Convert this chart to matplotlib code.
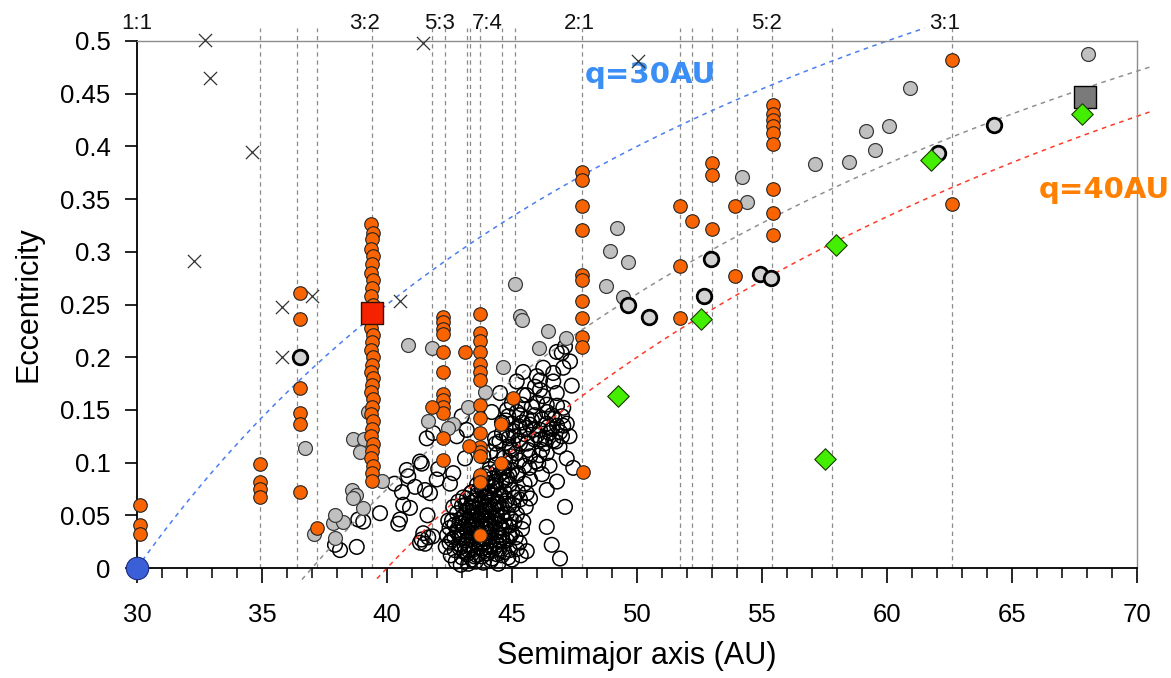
import matplotlib
matplotlib.use("Agg")
import matplotlib.pyplot as plt
import numpy as np

plt.rcParams['font.family'] = ['Liberation Sans', 'DejaVu Sans']

# ---------------- data ----------------
# mean-motion resonance locations (AU) drawn as dashed verticals
res_lines_a = [34.9, 36.4, 37.2, 39.4, 41.8, 42.3, 43.2, 43.3, 43.7, 44.6, 45.1,
               47.8, 51.7, 52.2, 53.0, 54.0, 55.4, 57.8, 62.6]
res_label_names = ["1:1", "3:2", "5:3", "7:4", "2:1", "5:2", "3:1"]
res_label_a = [30.0, 39.1, 42.1, 44.0, 47.7, 55.2, 62.3]

# constant-perihelion curves e = 1 - q/a
q_values = [30, 37, 40]
q_a_start = [30.0, 36.6, 39.6]
q_a_end = [61.5, 70.5, 70.5]
q_colors = ['#4a7ef2', '#909090', '#ff3a28']

# Neptune
neptune_a = [30.0]
neptune_e = [0.0]

# resonant objects (orange)
orange_a = ([30.1] * 3 + [34.9] * 4 + [36.5] * 6 + [37.2] +
            [39.35, 39.45, 39.4, 39.35, 39.45, 39.4, 39.35, 39.45, 39.4, 39.35,
             39.45, 39.4, 39.35, 39.45, 39.4, 39.35, 39.45, 39.4, 39.35, 39.45,
             39.4, 39.35, 39.45, 39.4, 39.35, 39.45, 39.4, 39.35, 39.45, 39.4,
             39.35, 39.45, 39.4, 39.4] +
            [42.25] * 12 + [41.8] +
            [43.7] * 16 +
            [43.12, 43.28, 44.55, 44.55, 45.05, 47.83] +
            [47.8] * 10 +
            [51.7, 52.2, 53.0, 51.7, 51.7, 53.9, 53.9, 53.0, 53.0] +
            [55.45] * 9 +
            [62.6, 62.6])
orange_e = ([0.060, 0.041, 0.032] +
            [0.099, 0.082, 0.075, 0.067] +
            [0.261, 0.236, 0.171, 0.147, 0.137, 0.072] +
            [0.038] +
            [0.326, 0.318, 0.312, 0.303, 0.296, 0.288, 0.280, 0.273, 0.266, 0.258,
             0.250, 0.235, 0.228, 0.221, 0.214, 0.207, 0.200, 0.193, 0.186, 0.180,
             0.174, 0.167, 0.160, 0.153, 0.146, 0.139, 0.132, 0.125, 0.118, 0.111,
             0.104, 0.097, 0.090, 0.083] +
            [0.238, 0.233, 0.227, 0.222, 0.205, 0.186, 0.165, 0.159, 0.153, 0.147,
             0.123, 0.102] + [0.153] +
            [0.241, 0.223, 0.215, 0.205, 0.194, 0.186, 0.178, 0.155, 0.142, 0.128,
             0.115, 0.110, 0.106, 0.088, 0.082, 0.031] +
            [0.205, 0.116, 0.137, 0.100, 0.161, 0.091] +
            [0.376, 0.368, 0.343, 0.321, 0.278, 0.273, 0.253, 0.237, 0.219, 0.210] +
            [0.343, 0.329, 0.322, 0.287, 0.237, 0.343, 0.277, 0.384, 0.373] +
            [0.439, 0.431, 0.425, 0.419, 0.413, 0.402, 0.360, 0.337, 0.316] +
            [0.482, 0.345])

# scattered objects (grey)
gray_a = [36.7, 37.08, 37.92, 37.84, 38.25, 37.92, 39.05, 38.59, 38.77, 38.65,
          39.79, 38.63, 39.08, 38.9, 39.24, 40.85, 41.79, 41.65, 42.65, 42.45,
          43.25, 43.92, 44.65, 45.12, 45.32, 45.39, 46.45, 46.09, 47.16, 48.76,
          49.43, 49.19, 48.9, 49.65, 54.39, 54.19, 57.13, 58.46, 59.17, 59.53,
          60.07, 60.93, 68.05]
gray_e = [0.114, 0.032, 0.028, 0.043, 0.044, 0.050, 0.057, 0.074, 0.069, 0.066,
          0.083, 0.122, 0.122, 0.110, 0.148, 0.212, 0.209, 0.139, 0.137, 0.133,
          0.153, 0.167, 0.191, 0.269, 0.239, 0.235, 0.225, 0.209, 0.218, 0.268,
          0.257, 0.323, 0.301, 0.290, 0.347, 0.371, 0.383, 0.385, 0.415, 0.397,
          0.419, 0.455, 0.488]

# detached objects (grey, thick outline)
detached_a = [36.5, 49.63, 50.48, 52.68, 52.95, 54.92, 55.35, 62.05, 64.26]
detached_e = [0.200, 0.250, 0.238, 0.258, 0.293, 0.279, 0.275, 0.394, 0.420]

# green diamonds
green_a = [49.25, 52.57, 57.5, 57.95, 61.76, 67.8]
green_e = [0.163, 0.236, 0.103, 0.306, 0.387, 0.431]

# highlighted squares
red_sq_a, red_sq_e = [39.4], [0.242]
gray_sq_a, gray_sq_e = [67.9], [0.447]

# crosses
cross_a = [32.7, 32.92, 34.59, 32.29, 35.79, 37.01, 35.79, 40.52, 41.44, 50.02]
cross_e = [0.501, 0.465, 0.395, 0.291, 0.248, 0.258, 0.200, 0.253, 0.498, 0.481]

# classical objects (open circles)
open_a = [
    # sparse left side
    38.12, 38.79, 37.92, 38.85, 39.05, 39.72, 40.45, 40.92, 40.65, 41.12,
    40.85, 40.79, 41.39, 41.62, 41.52, 41.39, 41.82, 41.99, 42.05, 42.52,
    42.65, 41.32, 41.52, 41.72, 41.85, 41.59, 42.79, 42.99, 43.19, 43.12,
    43.85, 44.12, 44.32, 44.19, 40.3, 40.6, 40.52, 41.45, 41.32, 41.65,
    # band towards upper right
    47.39, 46.79, 46.12, 45.45, 45.79, 46.39, 47.05, 47.19, 46.92, 46.65,
    47.19, 47.45, 46.39, 46.05, 45.72, 45.32, 44.92, 44.79, 45.32, 45.72,
    46.12, 46.39, 45.92, 45.32, 44.85, 44.99, 44.52, 45.92, 46.65,
    45.1, 45.5, 45.9, 46.2, 46.6, 46.8, 47.0, 45.6, 45.0, 46.3,
    46.9, 45.4, 46.0, 46.5, 44.7, 45.5, 46.2, 46.8, 47.3, 44.6,
    46.79, 47.12, 47.32, 47.05, 46.25, 45.45, 45.99, 46.65, 45.19, 46.25,
    45.59, 46.99, 46.12,
    44.4, 44.6, 44.8, 45.0, 45.2, 45.4, 45.6, 45.8, 46.0, 46.2,
    46.4, 46.6, 46.8, 47.0, 45.3, 45.7, 46.1, 46.5, 44.9, 45.5,
    44.5, 44.75, 45.05, 45.25, 45.55, 45.85, 46.15, 46.45, 46.75, 47.05,
    44.65, 44.95, 45.25, 45.65, 45.95, 46.35, 46.7, 44.35, 44.85, 45.15,
    # lower right
    46.39, 45.72, 45.59, 45.32, 47.12, 46.39, 46.59, 46.92, 45.59, 44.92,
    44.92, 45.72,
    # dense core
    43.0, 43.4, 43.8, 44.2, 44.6, 45.0,
    42.7, 43.1, 43.5, 43.9, 44.3, 44.7, 45.2,
    42.5, 42.9, 43.2, 43.6, 44.0, 44.4, 44.8, 45.3,
    42.4, 42.7, 43.0, 43.4, 43.7, 44.1, 44.5, 45.0,
    42.5, 42.8, 43.1, 43.5, 43.8, 44.2, 44.6, 44.9, 45.4,
    42.6, 42.9, 43.3, 43.6, 44.0, 44.3, 44.7, 45.1,
    42.8, 43.1, 43.4, 43.8, 44.1, 44.4, 44.8, 45.2,
    43.0, 43.3, 43.7, 44.0, 44.3, 44.6, 44.9,
    43.2, 43.5, 43.9, 44.2, 44.5, 44.8, 45.1,
    43.4, 43.8, 44.1, 44.4, 44.7, 45.0,
    43.6, 44.0, 44.3, 44.6, 44.9,
    43.9, 44.2, 44.5, 44.8, 45.2,
    44.1, 44.4, 44.7, 45.0,
    43.2, 43.6, 44.0, 44.4, 42.9, 43.3, 43.7, 44.1, 44.5, 42.6,
    43.0, 43.4, 43.8, 44.2, 44.6, 42.8, 43.2, 43.6, 44.0, 44.4,
    42.7, 43.0, 43.4, 43.8, 44.1, 44.5, 43.0, 43.5, 43.9, 44.2,
    44.6, 43.2, 43.6, 44.0, 44.4, 43.4, 43.8, 44.1, 44.4, 43.6,
    44.0, 44.3, 43.8, 44.2,
    42.35, 42.45, 42.55, 42.65, 42.75, 42.85, 42.95, 43.05, 43.15, 43.25,
    43.35, 43.45, 43.55, 43.65, 43.75, 43.85, 43.95, 44.05, 44.15, 44.25,
    44.35, 44.45, 44.55, 44.65, 44.75, 44.85, 44.95, 45.05, 45.15, 45.25,
    45.35, 45.45, 45.55, 42.9, 43.1, 43.3, 43.5, 43.7, 43.9, 44.1,
    44.3, 44.5, 44.7, 44.9, 43.15, 43.45, 43.75, 44.05, 44.35, 44.65,
    44.95, 43.25, 43.55, 43.85, 44.15, 44.45, 44.75, 43.35, 43.65, 43.95,
]
open_e = [
    0.017, 0.020, 0.022, 0.046, 0.044, 0.052, 0.042, 0.057, 0.060, 0.077,
    0.087, 0.093, 0.099, 0.050, 0.023, 0.027, 0.030, 0.084, 0.094, 0.080,
    0.090, 0.101, 0.074, 0.071, 0.128, 0.123, 0.125, 0.144, 0.131, 0.104,
    0.106, 0.110, 0.123, 0.148, 0.080, 0.072, 0.046, 0.033, 0.024, 0.029,
    0.173, 0.166, 0.169, 0.164, 0.153, 0.155, 0.152, 0.137, 0.129, 0.121,
    0.104, 0.095, 0.109, 0.099, 0.106, 0.118, 0.115, 0.126, 0.134, 0.136,
    0.131, 0.137, 0.145, 0.145, 0.144, 0.156, 0.166, 0.172, 0.177,
    0.125, 0.127, 0.122, 0.141, 0.145, 0.135, 0.144, 0.142, 0.137, 0.118,
    0.115, 0.155, 0.157, 0.128, 0.105, 0.097, 0.089, 0.082, 0.125, 0.138,
    0.205, 0.210, 0.196, 0.190, 0.190, 0.186, 0.182, 0.185, 0.177, 0.163,
    0.164, 0.204, 0.178,
    0.108, 0.128, 0.150, 0.112, 0.148, 0.138, 0.118, 0.140, 0.126, 0.112,
    0.148, 0.132, 0.154, 0.125, 0.102, 0.095, 0.107, 0.097, 0.088, 0.080,
    0.120, 0.140, 0.130, 0.121, 0.133, 0.131, 0.122, 0.134, 0.120, 0.135,
    0.095, 0.100, 0.090, 0.112, 0.101, 0.123, 0.142, 0.118, 0.123, 0.109,
    0.074, 0.084, 0.071, 0.065, 0.058, 0.039, 0.022, 0.009, 0.016, 0.017,
    0.030, 0.066,
    0.010, 0.008, 0.011, 0.009, 0.012, 0.008,
    0.017, 0.015, 0.018, 0.016, 0.019, 0.015, 0.018,
    0.024, 0.022, 0.026, 0.023, 0.025, 0.022, 0.026, 0.024,
    0.031, 0.029, 0.032, 0.030, 0.033, 0.029, 0.031, 0.033,
    0.038, 0.036, 0.039, 0.037, 0.040, 0.036, 0.038, 0.040, 0.037,
    0.045, 0.043, 0.046, 0.044, 0.047, 0.043, 0.045, 0.044,
    0.052, 0.050, 0.053, 0.051, 0.054, 0.050, 0.052, 0.051,
    0.059, 0.057, 0.060, 0.058, 0.061, 0.057, 0.060,
    0.066, 0.064, 0.067, 0.065, 0.068, 0.064, 0.067,
    0.072, 0.074, 0.071, 0.075, 0.072, 0.074,
    0.079, 0.081, 0.078, 0.082, 0.079,
    0.087, 0.085, 0.089, 0.086, 0.088,
    0.094, 0.092, 0.096, 0.093,
    0.013, 0.012, 0.014, 0.013, 0.019, 0.021, 0.020, 0.021, 0.018, 0.027,
    0.028, 0.027, 0.028, 0.026, 0.029, 0.034, 0.035, 0.034, 0.033, 0.034,
    0.041, 0.042, 0.041, 0.043, 0.041, 0.042, 0.048, 0.049, 0.047, 0.048,
    0.049, 0.055, 0.056, 0.055, 0.055, 0.062, 0.063, 0.062, 0.063, 0.069,
    0.068, 0.069, 0.076, 0.077,
    0.020, 0.045, 0.012, 0.058, 0.006, 0.063, 0.003, 0.067, 0.045, 0.004,
    0.071, 0.033, 0.006, 0.052, 0.085, 0.005, 0.038, 0.090, 0.007, 0.058,
    0.098, 0.004, 0.070, 0.025, 0.083, 0.010, 0.047, 0.060, 0.029, 0.072,
    0.012, 0.044, 0.058, 0.030, 0.021, 0.039, 0.011, 0.027, 0.058, 0.017,
    0.047, 0.025, 0.061, 0.031, 0.060, 0.058, 0.049, 0.073, 0.082, 0.091,
    0.106, 0.017, 0.041, 0.023, 0.039, 0.061, 0.040, 0.049, 0.074, 0.081,
]

x_ticks = [30, 35, 40, 45, 50, 55, 60, 65, 70]
y_ticks = [0, 0.05, 0.1, 0.15, 0.2, 0.25, 0.3, 0.35, 0.4, 0.45, 0.5]
y_tick_labels = ["0", "0.05", "0.1", "0.15", "0.2", "0.25", "0.3", "0.35",
                 "0.4", "0.45", "0.5"]

# ---------------- figure ----------------
W, H = 1171, 678
fig = plt.figure(figsize=(W / 100, H / 100), dpi=100)
ax = fig.add_axes([137 / W, 1 - 568 / H, 1000 / W, 527 / H])
ax.set_xlim(30, 70)
ax.set_ylim(0, 0.5)

line_top = 0.512
for a in res_lines_a:
    ax.plot([a, a], [0, line_top], color='#8a8a8a', lw=0.9,
            linestyle=(0, (3.5, 3)), zorder=1, clip_on=False)
for name, a in zip(res_label_names, res_label_a):
    ax.text(a, 0.5115, name, ha='center', va='baseline', fontsize=16,
            color='#111111', clip_on=False)

for q, a0, a1, c in zip(q_values, q_a_start, q_a_end, q_colors):
    aa = np.linspace(a0, a1, 300)
    ax.plot(aa, 1 - q / aa, color=c, lw=1.1, linestyle=(0, (3, 3)),
            zorder=2.5, clip_on=False)

ax.scatter(open_a, open_e, s=110, facecolor='none', edgecolor='black',
           linewidth=1.1, zorder=2, clip_on=False)
ax.scatter(gray_a, gray_e, s=100, facecolor='#c0c0c0', edgecolor='#3a3a3a',
           linewidth=0.9, zorder=3, clip_on=False)
ax.scatter(orange_a, orange_e, s=95, facecolor='#f96400', edgecolor='#222222',
           linewidth=0.8, zorder=4, clip_on=False)
ax.scatter(detached_a, detached_e, s=110, facecolor='#d2d2d2', edgecolor='black',
           linewidth=2.0, zorder=5, clip_on=False)
ax.scatter(cross_a, cross_e, s=90, marker='x', color='#333333', linewidth=0.9,
           zorder=5, clip_on=False)
ax.scatter(green_a, green_e, s=120, marker='D', facecolor='#44ee00',
           edgecolor='#1a3a00', linewidth=0.8, zorder=6, clip_on=False)
ax.scatter(red_sq_a, red_sq_e, s=260, marker='s', facecolor='#f52200',
           edgecolor='#331100', linewidth=1.0, zorder=7, clip_on=False)
ax.scatter(gray_sq_a, gray_sq_e, s=260, marker='s', facecolor='#7a7a7a',
           edgecolor='black', linewidth=1.0, zorder=5.5, clip_on=False)
ax.scatter(neptune_a, neptune_e, s=260, facecolor='#3b5fd6', edgecolor='#1c2f80',
           linewidth=0.8, zorder=8, clip_on=False)

ax.text(47.9, 0.468, "q=30AU", color='#3a8ef6', fontsize=21, fontweight='bold',
        family='DejaVu Sans', ha='left', va='center', clip_on=False)
ax.text(66.05, 0.359, "q=40AU", color='#ff8000', fontsize=21, fontweight='bold',
        family='DejaVu Sans', ha='left', va='center', clip_on=False)

# axes styling
ax.spines['left'].set_color('black')
ax.spines['bottom'].set_color('black')
ax.spines['left'].set_linewidth(1.3)
ax.spines['bottom'].set_linewidth(1.3)
ax.spines['top'].set_color('#8c8c8c')
ax.spines['right'].set_color('#8c8c8c')
ax.spines['top'].set_linewidth(1.0)
ax.spines['right'].set_linewidth(1.0)

ax.set_xticks(x_ticks)
ax.set_xticks(list(range(30, 71)), minor=True)
ax.set_yticks(y_ticks)
ax.set_yticklabels(y_tick_labels)
ax.tick_params(axis='x', which='major', direction='out', length=11, width=1.2,
               labelsize=18.5, pad=14, colors='black')
ax.tick_params(axis='x', which='minor', direction='out', length=7, width=1.1)
ax.tick_params(axis='y', which='major', direction='out', length=9, width=1.2,
               labelsize=18.5, pad=10)
ax.tick_params(top=False, right=False)

ax.set_xlabel("Semimajor axis (AU)", fontsize=22, labelpad=10)
ax.set_ylabel("Eccentricity", fontsize=22, labelpad=12)

fig.savefig("out.png", dpi=100)
